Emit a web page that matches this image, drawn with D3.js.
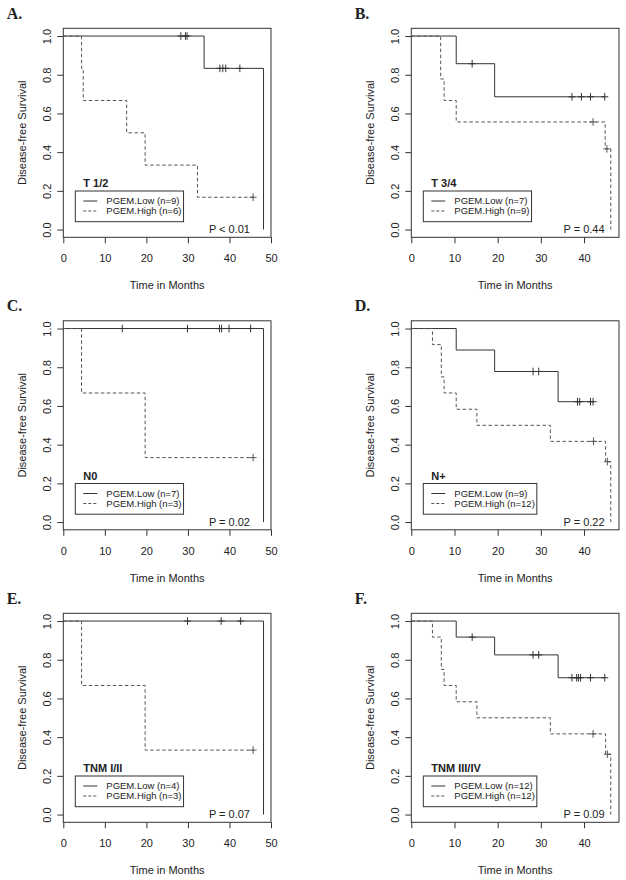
<!DOCTYPE html>
<html>
<head>
<meta charset="utf-8">
<script src="https://cdn.jsdelivr.net/npm/d3@7"></script>
<style>
  html, body { margin: 0; padding: 0; background: #fff; }
  svg { display: block; }
  text { font-family: "Liberation Sans", Arial, sans-serif; fill: #222; }
</style>
</head>
<body>
<svg id="chart" width="626" height="880"></svg>
<script>
// ---------- data ----------
const panelLetters = ["A.", "B.", "C.", "D.", "E.", "F."];
const subgroups = ["T 1/2", "T 3/4", "N0", "N+", "TNM I/II", "TNM III/IV"];
const lowN = [9, 7, 7, 9, 4, 12];
const highN = [6, 9, 3, 12, 3, 12];
const pLabels = ["P < 0.01", "P = 0.44", "P = 0.02", "P = 0.22", "P = 0.07", "P = 0.09"];
const xMax = [50, 48.1, 50, 48.1, 50, 48.1];
const xTicks = [
  [0, 10, 20, 30, 40, 50], [0, 10, 20, 30, 40],
  [0, 10, 20, 30, 40, 50], [0, 10, 20, 30, 40],
  [0, 10, 20, 30, 40, 50], [0, 10, 20, 30, 40]
];
const yTicks = [0, 0.2, 0.4, 0.6, 0.8, 1.0];

// Kaplan-Meier steps: [time, survival after step]
const lowSteps = [
  [[0, 1], [33.9, 0.833], [48.2, 0]],
  [[0, 1], [10.4, 0.857], [19.3, 0.686]],
  [[0, 1], [48.2, 0]],
  [[0, 1], [10.4, 0.889], [19.3, 0.778], [34.0, 0.622]],
  [[0, 1], [48.2, 0]],
  [[0, 1], [10.4, 0.917], [19.3, 0.825], [34.0, 0.707]]
];
const lowCensor = [
  [28.3, 29.4, 29.8, 37.7, 38.4, 39.1, 42.5],
  [14.1, 37.2, 39.4, 41.5, 44.8],
  [14.2, 29.9, 37.6, 38.1, 39.9, 45.1],
  [28.2, 29.5, 38.5, 39.0, 41.5, 42.1],
  [29.9, 38.0, 42.7],
  [14.1, 28.2, 29.5, 37.2, 38.3, 38.7, 39.2, 41.5, 44.8]
];
const highSteps = [
  [[0, 1], [4.4, 0.833], [4.8, 0.667], [15.25, 0.5], [19.7, 0.333], [32.3, 0.167]],
  [[0, 1], [6.8, 0.778], [7.6, 0.667], [10.4, 0.556], [44.9, 0.417], [46.2, 0]],
  [[0, 1], [4.4, 0.667], [19.7, 0.333]],
  [[0, 1], [4.9, 0.917], [6.95, 0.75], [7.6, 0.667], [10.4, 0.583], [15.2, 0.5], [32.2, 0.417], [45.0, 0.312], [46.2, 0]],
  [[0, 1], [4.4, 0.667], [19.7, 0.333]],
  [[0, 1], [4.9, 0.917], [6.95, 0.75], [7.6, 0.667], [10.4, 0.583], [15.2, 0.5], [32.2, 0.417], [45.0, 0.312], [46.2, 0]]
];
const highCensor = [
  [45.7],
  [42.1, 45.3],
  [45.7],
  [42.2, 45.4],
  [45.7],
  [42.1, 45.4]
];

// ---------- drawing ----------
const svg = d3.select("#chart");
svg.append("rect").attr("width", 626).attr("height", 880).attr("fill", "#fff");

const plotW = 207.7, plotH = 209;
const lineColor = "#333";

function survAt(steps, t) {
  let s = steps[0][1];
  for (const p of steps) { if (p[0] <= t) s = p[1]; }
  return s;
}

panelLetters.forEach((letter, i) => {
  const col = i % 2, row = Math.floor(i / 2);
  const left = 63.3 + col * 348;
  const top = 28.3 + row * 292.5;
  const x = d3.scaleLinear().domain([0, xMax[i]]).range([left, left + plotW]);
  const y = d3.scaleLinear().domain([-0.04, 1.04]).range([top + plotH, top]);
  const g = svg.append("g");

  // panel letter
  g.append("text").attr("x", left - 56.6).attr("y", top - 9.5)
    .style("font-family", '"Liberation Serif", "Times New Roman", serif')
    .style("font-weight", "bold").style("font-size", "16px").text(letter);

  // axes
  const xa = g.append("g").attr("transform", `translate(0,${top + plotH})`)
    .call(d3.axisBottom(x).tickValues(xTicks[i]).tickFormat(d3.format("d")).tickSize(6).tickPadding(11));
  const ya = g.append("g").attr("transform", `translate(${left},0)`)
    .call(d3.axisLeft(y).tickValues(yTicks).tickFormat(d3.format(".1f")).tickSize(6));
  [xa, ya].forEach(a => {
    a.select(".domain").remove();
    a.selectAll("line").attr("stroke", lineColor);
    a.selectAll("text").style("font-size", "11px").style("font-family", '"Liberation Sans", Arial, sans-serif').attr("fill", "#222");
  });
  ya.selectAll("text")
    .attr("x", 0).attr("y", 0).attr("dy", "0.35em")
    .attr("text-anchor", "middle")
    .attr("transform", "translate(-16.5,0) rotate(-90)");

  // box
  g.append("rect").attr("x", left).attr("y", top).attr("width", plotW).attr("height", plotH)
    .attr("fill", "none").attr("stroke", lineColor).attr("stroke-width", 1);

  // axis titles
  g.append("text").attr("transform", `translate(${left - 41.6},${top + plotH / 2}) rotate(-90)`)
    .attr("text-anchor", "middle").attr("dy", "0.35em").style("font-size", "11px")
    .text("Disease-free Survival");
  g.append("text").attr("x", left + plotW / 2).attr("y", top + plotH + 48).attr("dy", "0.35em")
    .attr("text-anchor", "middle").style("font-size", "11px").text("Time in Months");

  // curves
  const line = d3.line().x(d => x(d[0])).y(d => y(d[1])).curve(d3.curveStepAfter);
  const series = [
    { steps: lowSteps[i], cens: lowCensor[i], dash: null, color: "#333" },
    { steps: highSteps[i], cens: highCensor[i], dash: "3.5,2.5", color: "#555" }
  ];
  series.forEach(s => {
    const pts = s.steps.slice();
    const last = pts[pts.length - 1];
    const endT = Math.max(last[0], d3.max(s.cens));
    if (endT > last[0]) pts.push([endT, last[1]]);
    g.append("path").attr("d", line(pts)).attr("fill", "none")
      .attr("stroke", s.color).attr("stroke-width", 1)
      .attr("stroke-dasharray", s.dash);
    g.selectAll(null).data(s.cens).enter().append("path")
      .attr("d", t => {
        const cx = x(t), cy = y(survAt(s.steps, t));
        return `M${cx - 3.5},${cy}H${cx + 3.5}M${cx},${cy - 3.8}V${cy + 3.8}`;
      })
      .attr("stroke", s.color).attr("stroke-width", 1).attr("fill", "none");
  });

  // p-value
  g.append("text").attr("x", x(40)).attr("y", y(0)).attr("dy", "0.35em")
    .attr("text-anchor", "middle").style("font-size", "11px").text(pLabels[i]);

  // legend
  const bx = left + 12, by = top + 162.7, bh = 30.7;
  const lg = g.append("g");
  const labels = [`PGEM.Low (n=${lowN[i]})`, `PGEM.High (n=${highN[i]})`];
  const txts = labels.map((t, k) => lg.append("text")
    .attr("x", bx + 31).attr("y", by + 10 + k * 10).attr("dy", "0.35em")
    .style("font-size", "9.5px").attr("fill", "#333").text(t));
  const tw = d3.max(txts, t => t.node().getComputedTextLength());
  lg.insert("rect", "text").attr("x", bx).attr("y", by).attr("width", 33 + tw).attr("height", bh)
    .attr("fill", "#fff").attr("stroke", lineColor).attr("stroke-width", 1);
  [null, "3,2"].forEach((dash, k) => {
    lg.append("line").attr("x1", bx + 8).attr("x2", bx + 22)
      .attr("y1", by + 10 + k * 10).attr("y2", by + 10 + k * 10)
      .attr("stroke", k ? "#555" : "#333").attr("stroke-width", 1).attr("stroke-dasharray", dash);
  });
  g.append("text").attr("x", bx + 8).attr("y", by - 3.8)
    .style("font-size", "11px").style("font-weight", "bold").text(subgroups[i]);
});
</script>
</body>
</html>
